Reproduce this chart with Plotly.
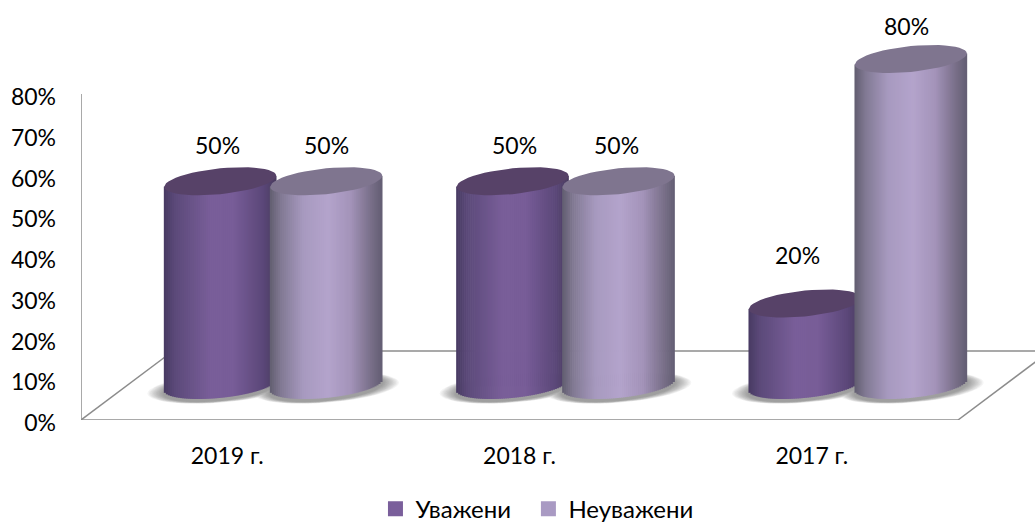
import math
import plotly.graph_objects as go

categories = ["2019 г.", "2018 г.", "2017 г."]
respected = [50, 50, 20]
unrespected = [50, 50, 80]
series_names = ["Уважени\u00a0\u00a0", "Неуважени"]
y_ticks = [0, 10, 20, 30, 40, 50, 60, 70, 80]

# pixel scale of the plot frame
PX_X = 292.33   # px per category
PX_Y = 40.75    # px per 10 %
def dx(px): return px / PX_X
def dy(px): return px / PX_Y * 10

X0, X1 = -0.5, 2.5
FLOOR = dy(35)
A = dx(56)
TILT = dy(5.5)
B = dy(12.9)
OFFSETS = {0: dx(-7), 1: dx(99)}
STRIPES = 56

def lerp(c1, c2, t):
    return tuple(c1[i] + (c2[i] - c1[i]) * t for i in range(3))

def ramp(stops, t):
    for (t0, c0), (t1, c1) in zip(stops, stops[1:]):
        if t <= t1:
            return lerp(c0, c1, (t - t0) / (t1 - t0))
    return stops[-1][1]

DARK = [(0, (72, 58, 98)), (0.1, (92, 74, 122)), (0.42, (122, 95, 154)), (0.62, (120, 93, 152)),
        (0.88, (92, 72, 122)), (1, (74, 60, 96))]
LIGHT = [(0, (98, 94, 112)), (0.1, (130, 122, 148)), (0.3, (168, 154, 192)), (0.52, (180, 164, 204)),
         (0.72, (164, 148, 186)), (0.9, (122, 112, 138)), (1, (100, 94, 116))]
TOPS = ["#574268", "#7f758f"]
BAR_COLORS = ["#7a5f9b", "#a99ac3"]

def ellipse(cx, cy, sx=1.0, sy=1.0, n=48):
    xs, ys = [], []
    for k in range(n + 1):
        t = 2 * math.pi * k / n
        u = math.cos(t)
        xs.append(cx + sx * A * u)
        ys.append(cy + TILT * u + sy * B * math.sin(t))
    return xs, ys

fig = go.Figure()

# real bars (carry the data + legend), hidden behind the cylinder faces
for s, values in enumerate([respected, unrespected]):
    fig.add_bar(
        x=[i + OFFSETS[s] for i in range(3)], y=values, base=FLOOR,
        width=A * 1.3, name=series_names[s],
        marker=dict(color=BAR_COLORS[s], line=dict(color=BAR_COLORS[s], width=3)),
        hoverinfo="skip",
    )

def line(xs, ys):
    fig.add_scatter(x=xs, y=ys, mode="lines", line=dict(color="#8c8c8c", width=1.5),
                    showlegend=False, hoverinfo="skip")

DEPTH_X, DEPTH_Y = dx(92), dy(69)
line([X0, X0], [0, 80])
line([X0, X1], [0, 0])
line([X0, X0 + DEPTH_X], [0, DEPTH_Y])
line([X0 + DEPTH_X, X1 + DEPTH_X], [DEPTH_Y, DEPTH_Y])
line([X1, X1 + DEPTH_X], [0, DEPTH_Y])

# soft floor shadows
RINGS = 12
for r in range(RINGS):
    f = 1 - r / RINGS
    xs, ys = [], []
    for s in range(2):
        for i in range(3):
            ex, ey = ellipse(i + OFFSETS[s], FLOOR - dy(3), 1 + 0.30 * f, 1 + 0.14 * f)
            xs += ex + [None]
            ys += ey + [None]
    fig.add_scatter(x=xs, y=ys, mode="lines", fill="toself", line=dict(width=0),
                    fillcolor="rgba(60,60,60,0.05)",
                    showlegend=False, hoverinfo="skip")

# cylinder faces
for s, values in enumerate([respected, unrespected]):
    stops = DARK if s == 0 else LIGHT
    for k in range(STRIPES):
        u = -1 + 2 * (k + 0.5) / STRIPES
        c = ramp(stops, (u + 1) / 2)
        half = (1 - u * u) ** 0.5
        xs, ys = [], []
        for i, v in enumerate(values):
            x = i + OFFSETS[s] + u * A
            xs += [x, x, None]
            ys += [FLOOR + TILT * u - B * half, FLOOR + v + TILT * u, None]
        fig.add_scatter(x=xs, y=ys, mode="lines",
                        line=dict(width=2.7, color="rgb(%d,%d,%d)" % c),
                        showlegend=False, hoverinfo="skip")
    xs, ys = [], []
    for i, v in enumerate(values):
        ex, ey = ellipse(i + OFFSETS[s], FLOOR + v)
        xs += ex + [None]
        ys += ey + [None]
    fig.add_scatter(x=xs, y=ys, mode="lines", fill="toself", line=dict(width=0),
                    fillcolor=TOPS[s], showlegend=False, hoverinfo="skip")

# value labels
FONT = "Lato, Noto Sans, sans-serif"
NUDGE_X = [[-3, 2, -7], [0, -2, -4]]
LIFTS = {20: 49, 50: 36, 80: 33}
for s, values in enumerate([respected, unrespected]):
    for i, v in enumerate(values):
        fig.add_annotation(x=i + OFFSETS[s], y=FLOOR + v, text=f"{v}%", showarrow=False,
                           xshift=NUDGE_X[s][i], yshift=LIFTS[v],
                           font=dict(family=FONT, size=23, color="#000"))

fig.update_layout(
    width=1035, height=525,
    margin=dict(l=81, r=0, t=20, b=105),
    paper_bgcolor="white", plot_bgcolor="white",
    barmode="overlay", showlegend=True,
    font=dict(family=FONT, size=23, color="#000"),
    legend=dict(orientation="h", x=0.5188, xanchor="center", xref="container",
                y=0.073, yanchor="top", yref="container",
                font=dict(family=FONT, size=24, color="#000"), bgcolor="rgba(0,0,0,0)"),
    xaxis=dict(range=[X0, X0 + dx(1035 - 81)], tickmode="array", tickvals=[0, 1, 2], ticktext=categories,
               showgrid=False, zeroline=False, showline=False,
               ticks="", ticklabelstandoff=20),
    yaxis=dict(range=[0, dy(400)], tickmode="array", tickvals=y_ticks,
               ticktext=[f"{t}%" for t in y_ticks],
               showgrid=False, zeroline=False, showline=False,
               ticks="", ticklabelstandoff=24, ticklabelshift=3),
)
fig.write_html("out.html", post_script="document.body.style.margin='0';",
               config={"displayModeBar": False})
